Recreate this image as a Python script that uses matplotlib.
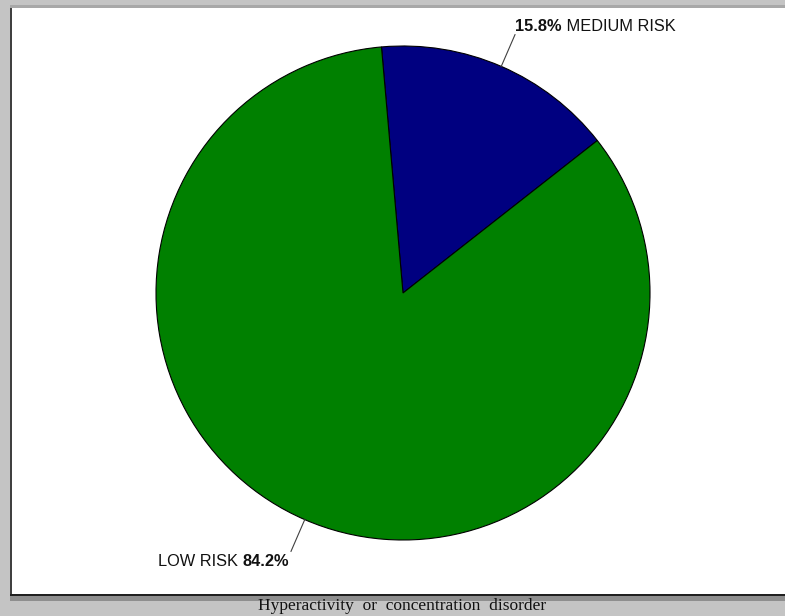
import matplotlib.pyplot as plt
from matplotlib.patches import Rectangle
import numpy as np

# chart data
categories = ['MEDIUM RISK', 'LOW RISK']
values = [15.8, 84.2]
colors = ['#000080', '#008000']
caption = 'Hyperactivity  or  concentration  disorder'

W, H = 785, 616
fig = plt.figure(figsize=(W / 100, H / 100), dpi=100)
fig.patch.set_facecolor('#c4c4c4')

# white panel with a sunken frame (figure pixel coords, y up)
def px_rect(x, y, w, h, color):
    fig.add_artist(Rectangle((x / W, y / H), w / W, h / H, facecolor=color,
                             edgecolor='none', transform=fig.transFigure, zorder=0))

px_rect(10, H - 595, W, 587, 'white')
px_rect(10, H - 601, W, 6, '#8e8e8e')
px_rect(10, H - 8, W, 3, '#a8a8a8')
px_rect(10, H - 595, 1.5, 587, '#404040')
px_rect(10, H - 596, W, 1.8, '#202020')

# full-figure axes in pixel units (y up)
ax = fig.add_axes([0, 0, 1, 1])
ax.patch.set_alpha(0)

cx, cy, R = 403, H - 293, 247
wedges, _ = ax.pie(values, colors=colors, startangle=95, counterclock=False,
                   center=(cx, cy), radius=R, frame=True,
                   wedgeprops=dict(edgecolor='black', linewidth=0.8))
ax.set_xlim(0, W)
ax.set_ylim(0, H)
ax.set_aspect('equal')
ax.axis('off')

fs = 11.8
font = 'Liberation Sans'
for i, w in enumerate(wedges):
    mid = np.deg2rad((w.theta1 + w.theta2) / 2)
    x0, y0 = cx + R * np.cos(mid), cy + R * np.sin(mid)
    x1, y1 = cx + 1.14 * R * np.cos(mid), cy + 1.14 * R * np.sin(mid)
    ax.plot([x0, x1], [y0, y1], color='#404040', lw=0.8)
    pct = f'{values[i]:.1f}%'
    if np.cos(mid) >= 0:
        t = ax.text(x1, y1 + 1, pct, fontsize=fs, fontweight='bold', family=font,
                    ha='left', va='bottom', color='#111111')
        ax.annotate(' ' + categories[i], xy=(1, 0), xycoords=t, fontsize=fs, family=font,
                    ha='left', va='bottom', color='#111111')
    else:
        t = ax.text(x1 - 2, y1 - 3, pct, fontsize=fs, fontweight='bold', family=font,
                    ha='right', va='top', color='#111111')
        ax.annotate(categories[i] + ' ', xy=(0, 0), xycoords=t, fontsize=fs, family=font,
                    ha='right', va='bottom', color='#111111')

ax.text(W / 2 + 10, H - 606, caption, fontsize=12.5, family='Liberation Serif',
        ha='center', va='center', color='#111111')

fig.savefig('out.png', dpi=100, facecolor=fig.get_facecolor())
